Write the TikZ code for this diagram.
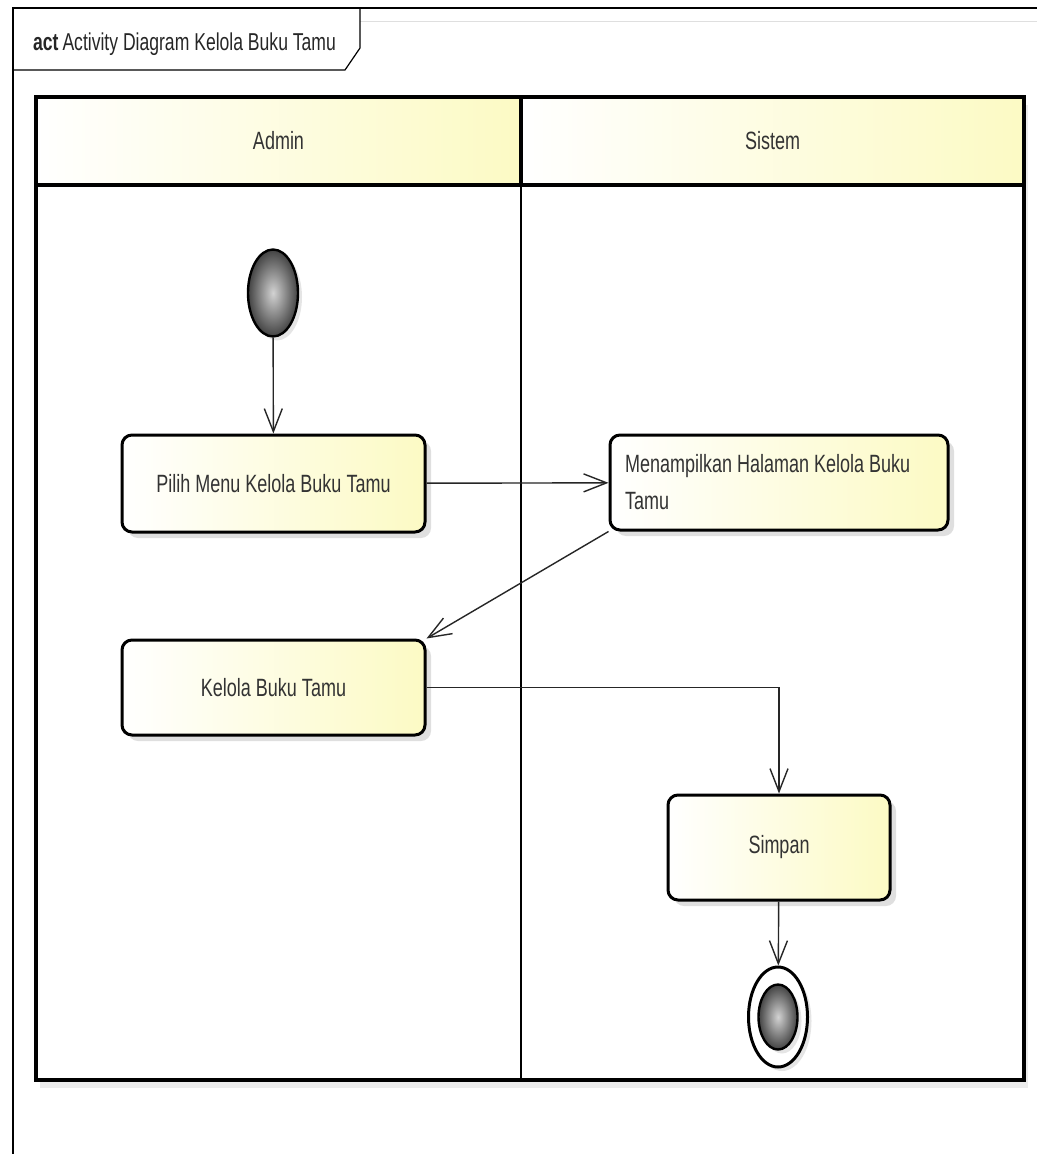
\documentclass[tikz,border=0pt]{standalone}
\usepackage{fontspec}
\newfontfamily\umlfont[FakeStretch=0.72]{Liberation Sans}
\usetikzlibrary{shapes.geometric,arrows.meta,shadows}
\definecolor{umlYellow}{RGB}{252,250,196}
\definecolor{umlGray}{RGB}{110,110,110}

\begin{document}
\begin{tikzpicture}
[x=0.5pt,y=-0.5pt,
 font=\umlfont\fontsize{12.5}{18.5}\selectfont,
 laneDecorate/.style={draw,line width=2pt,left color=white,right color=umlYellow,text=black!80},%
 actionDecorate/.style={shape=rectangle,rounded corners=5pt,draw,line width=1.5pt,
   left color=white,right color=umlYellow,text=black!80,
   drop shadow={shadow xshift=3pt,shadow yshift=-3pt,opacity=0.25}},
 startDecorate/.style={shape=ellipse,draw,line width=1.2pt,inner sep=0pt,
   inner color=gray!35,outer color=umlGray!60!black,
   drop shadow={shadow xshift=2pt,shadow yshift=-2pt,opacity=0.2}},
 flowDecorate/.style={-{Straight Barb[length=11.5pt,width=9pt]},line width=0.7pt,black!85}]
\useasboundingbox (0,0) rectangle (1037,1154);
%% frame
\draw[line width=0.6pt] (13,1154) -- (13,8) -- (1037,8);
\draw[gray!25,line width=0.5pt] (360,22) -- (1037,22);
\draw[line width=0.6pt] (13,70) -- (345,70) -- (360,48) -- (360,8);
\node (titel) at (26,44) [anchor=west,font=\umlfont\fontsize{12.2}{15}\selectfont,text=black!85]
  {\textbf{act}\,Activity Diagram Kelola Buku Tamu};
%% swimlanes
\fill[white,drop shadow={shadow xshift=2pt,shadow yshift=-4pt,opacity=0.15}] (36,97) rectangle (1024,1080);
\path[laneDecorate] (36,97) rectangle node (laneAdmin) {Admin} (521,185);
\path[laneDecorate] (521,97) rectangle node (laneSistem) {Sistem} (1024,185);
\draw[line width=2pt] (36,97) rectangle (1024,1080);
\draw[line width=1pt] (521,185) -- (521,1080);
%% nodes
\node (mulai) at (273,293) [startDecorate,minimum width=25pt,minimum height=43.5pt] {};
\node (pilih) at (273.5,483.5) [actionDecorate,minimum width=151.5pt,minimum height=48.5pt]
  {Pilih Menu Kelola Buku Tamu};
\node (tampil) at (779,482.5) [actionDecorate,minimum width=169pt,minimum height=47.5pt,
  text width=154pt,inner sep=7.5pt,align=flush left]
  {Menampilkan Halaman Kelola Buku\\Tamu};
\node (kelola) at (273.5,687.5) [actionDecorate,minimum width=151.5pt,minimum height=47.5pt]
  {Kelola Buku Tamu};
\node (simpan) at (779,847.5) [actionDecorate,minimum width=111pt,minimum height=52.5pt]
  {Simpan};
\node (akhir) at (778,1017) [shape=ellipse,draw,line width=1.5pt,fill=white,inner sep=0pt,
  minimum width=29.5pt,minimum height=50pt,
  drop shadow={shadow xshift=2pt,shadow yshift=-2pt,opacity=0.2}] {};
\node (akhirInti) at (akhir.center) [startDecorate,drop shadow/.style={},
  minimum width=19.5pt,minimum height=32.5pt] {};
%% flows
\draw[flowDecorate] (mulai) -- (pilih);
\draw[flowDecorate] (pilih) -- (tampil);
\draw[flowDecorate] (tampil.south west) -- (kelola.north east);
\draw[flowDecorate] (kelola) -| (simpan);
\draw[flowDecorate] (simpan) -- (akhir);
\end{tikzpicture}
\end{document}
